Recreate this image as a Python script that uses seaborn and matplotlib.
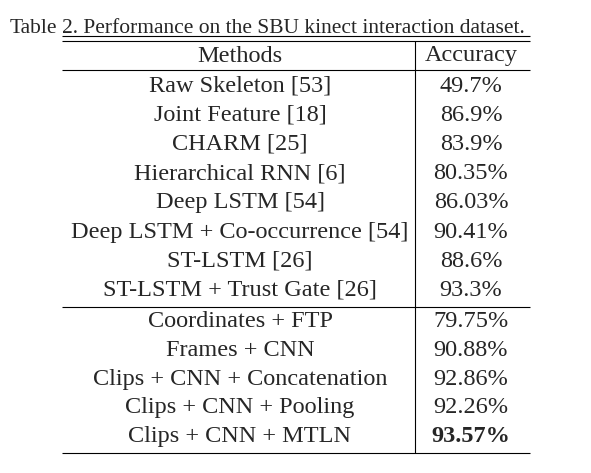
import matplotlib
matplotlib.use("Agg")
import matplotlib.pyplot as plt
import seaborn as sns

sns.set_theme(style="white")
plt.rcParams['font.family'] = ['Liberation Serif', 'DejaVu Serif']

methods_a = ["Raw Skeleton [53]", "Joint Feature [18]", "CHARM [25]", "Hierarchical RNN [6]",
             "Deep LSTM [54]", "Deep LSTM + Co-occurrence [54]", "ST-LSTM [26]", "ST-LSTM + Trust Gate [26]"]
acc_a = ["49.7%", "86.9%", "83.9%", "80.35%", "86.03%", "90.41%", "88.6%", "93.3%"]
methods_b = ["Coordinates + FTP", "Frames + CNN", "Clips + CNN + Concatenation",
             "Clips + CNN + Pooling", "Clips + CNN + MTLN"]
acc_b = ["79.75%", "90.88%", "92.86%", "92.26%", "93.57%"]

fig = plt.figure(figsize=(5.91, 4.73), dpi=100)
ax = fig.add_axes([0, 0, 1, 1])
ax.set_xlim(0, 591); ax.set_ylim(473, 0); ax.axis("off")

fs = 17.5
ax.text(10, 33, "Table", fontsize=15.5, ha="left", va="baseline")
ax.text(62, 33, "2. Performance on the SBU kinect interaction dataset.", fontsize=15.5, ha="left", va="baseline")
ax.hlines(36, 62, 530, color="black", lw=0.8)
ax.hlines(41, 62, 530, color="black", lw=0.8)
ax.hlines(70, 62, 530, color="black", lw=0.8)
ax.hlines(306.5, 62, 530, color="black", lw=0.8)
ax.hlines(453, 62, 530, color="black", lw=0.8)
ax.vlines(415, 41, 453, color="black", lw=0.8)

cx_m, cx_a = 240, 471
ax.text(cx_m, 56, "Methods", fontsize=fs, ha="center", va="center")
ax.text(cx_a, 56, "Accuracy", fontsize=fs, ha="center", va="center")
y0, dy = 86, 29.2
for i, (m, a) in enumerate(zip(methods_a, acc_a)):
    y = y0 + i * dy
    ax.text(cx_m, y, m, fontsize=fs, ha="center", va="center")
    ax.text(cx_a, y, a, fontsize=fs, ha="center", va="center")
y1 = 321.5
for i, (m, a) in enumerate(zip(methods_b, acc_b)):
    y = y1 + i * 28.8
    ax.text(cx_m, y, m, fontsize=fs, ha="center", va="center")
    ax.text(cx_a, y, a, fontsize=fs, ha="center", va="center",
            fontweight="bold" if i == len(methods_b) - 1 else "normal")

fig.savefig("out.png", dpi=100)
